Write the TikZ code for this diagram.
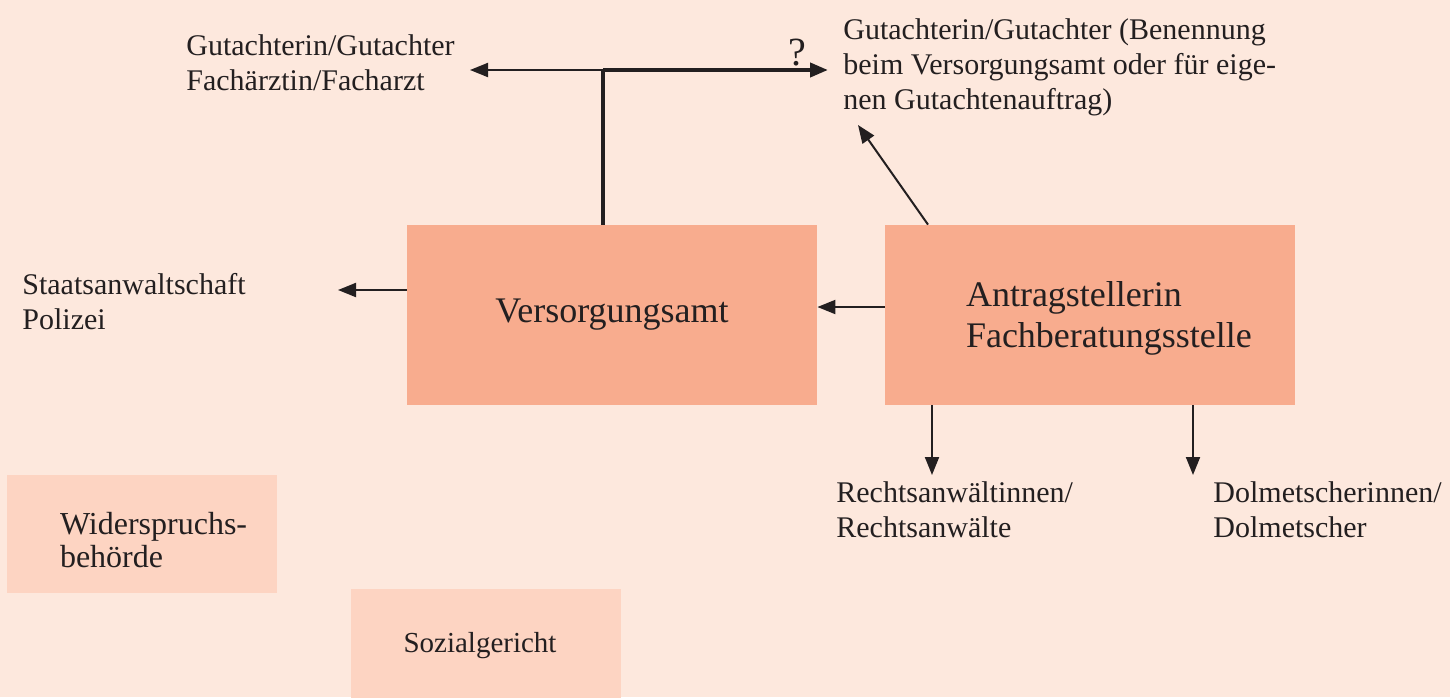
\documentclass[tikz,border=0pt]{standalone}
\usepackage{fontspec}
\setmainfont{Liberation Serif}
\usetikzlibrary{arrows.meta,positioning}
\definecolor{bgpeach}{HTML}{FDE8DD}
\definecolor{boxdark}{HTML}{F8AC8E}
\definecolor{boxlight}{HTML}{FDD4C2}
\definecolor{ink}{HTML}{231F20}
\begin{document}
\begin{tikzpicture}[x=0.5pt, y=-0.5pt,
    mainbox/.style={fill=boxdark, minimum width=205pt, minimum height=90pt,
                    inner sep=0pt, text=ink, font=\fontsize{18}{20.5}\selectfont},
    sidebox/.style={fill=boxlight, minimum width=135pt, minimum height=59pt,
                    inner sep=0pt, align=left, text=ink, font=\fontsize{15}{16.5}\selectfont},
    boxtext/.style={inner sep=0pt, align=left, text=ink, font=\fontsize{18}{20.5}\selectfont},
    label/.style={inner sep=0pt, align=left, text=ink, font=\fontsize{15}{17.5}\selectfont},
    link/.style={draw=ink, line width=1pt, -{Triangle[length=9pt, width=7pt]}},
    heavy/.style={draw=ink, line width=2pt}]
  % background and frame
  \fill[bgpeach] (0,0) rectangle (1450,697);
  \useasboundingbox (0,0) rectangle (1450,697);

  % boxes
  \node[mainbox] (amt) at (612,315) {Versorgungsamt};
  \node[mainbox] (antrag) at (1090,315) {};
  \node[boxtext, anchor=west] (antragtext) at ([xshift=40.5pt, yshift=-1.5pt]antrag.west)
       {Antragstellerin\\Fachberatungsstelle};
  \node[sidebox] (widerspruch) at (142,534) {};
  \node[boxtext, font=\fontsize{16}{16.5}\selectfont, anchor=west] (widerspruchtext)
       at ([xshift=26.5pt, yshift=-3pt]widerspruch.west) {Widerspruchs-\\behörde};
  \node[sidebox] (gericht) at (486,648) {};
  \node[label, font=\fontsize{14.5}{16.5}\selectfont] (gerichttext) at (480,646) {Sozialgericht};

  % labels
  \node[label, anchor=north west] (gutl) at (186,34)
       {Gutachterin/Gutachter\\Fachärztin/Facharzt};
  \node[label, anchor=north west] (gutr) at (843,18)
       {Gutachterin/Gutachter (Benennung\\beim Versorgungsamt oder für eige-\\nen Gutachtenauftrag)};
  \node[label, anchor=north west] (staat) at (22,273)
       {Staatsanwaltschaft\\Polizei};
  \node[label, anchor=north west] (anwalt) at (836,481)
       {Rechtsanwältinnen/\\Rechtsanwälte};
  \node[label, anchor=north west] (dolm) at (1213,481)
       {Dolmetscherinnen/\\Dolmetscher};
  \node[label, font=\fontsize{20}{22}\selectfont] (frage) at (797,53) {?};

  % arrow ends
  \coordinate (tee) at (603,70);
  \coordinate (gutlend) at (470,70);
  \coordinate (gutrend) at (828,70);
  \coordinate (diagend) at (858,125);
  \coordinate (staatend) at (338,290);
  \coordinate (anwaltend) at (932,475);
  \coordinate (dolmend) at (1193,475);

  % connectors
  \draw[heavy] (amt.north -| tee) -- (tee);
  \draw[link] (tee) -- (gutlend);
  \draw[heavy, -{Triangle[length=9pt, width=7pt]}] (tee) -- (gutrend);
  \draw[link] (antrag.north -| 928,0) -- (diagend);
  \draw[link] ([yshift=4pt]antrag.west) -- (amt.east |- 0,307);
  \draw[link] (amt.west |- staatend) -- (staatend);
  \draw[link] (antrag.south -| anwaltend) -- (anwaltend);
  \draw[link] (antrag.south -| dolmend) -- (dolmend);
\end{tikzpicture}
\end{document}
